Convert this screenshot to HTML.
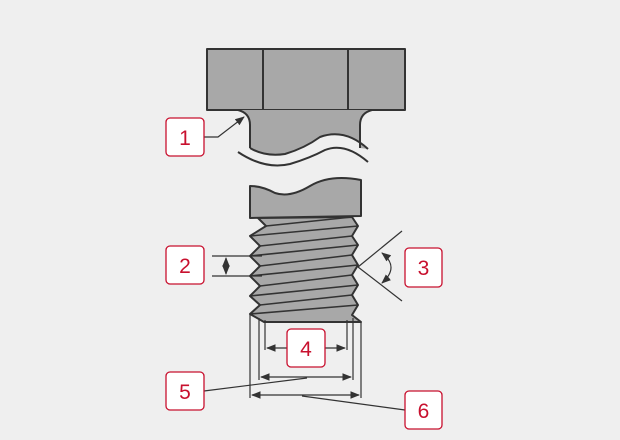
<html><body style="margin:0;background:#efefef">
<svg width="620" height="440" viewBox="0 0 620 440" xmlns="http://www.w3.org/2000/svg" style="display:block">
<defs><marker id="a" viewBox="0 0 10 10" refX="9" refY="5" markerWidth="8" markerHeight="8" orient="auto-start-reverse"><path d="M0,1 L10,5 L0,9z" fill="#333"/></marker></defs>
<g stroke="#333" stroke-width="2" fill="#a8a8a8" stroke-linejoin="round">
<rect x="207" y="49" width="198" height="61"/>
<line x1="263" y1="49" x2="263" y2="110"/><line x1="348" y1="49" x2="348" y2="110"/>
<path d="M238,110 Q250,113 250,125 L250,148 Q265,157 285,154 Q305,148 320,137 Q345,128 368,149 L360,148 L360,125 Q360,113 372,110 Z" stroke="none"/>
<path d="M238,110 Q250,113 250,125 L250,148 M368,149 Q345,128 320,137 Q305,148 285,154 Q265,157 250,148 M360,148 L360,125 Q360,113 372,110" fill="none"/>
<path d="M238,152 Q265,170 290,164 Q310,158 325,150 Q345,142 368,162" fill="none"/>
<path d="M250,186 Q262,186 275,193 Q290,198 310,186 Q330,174 361,180 L361,216 L250,218 Z"/>
<path d="M258,218 L266,226 L250,236 L260,246 L250,256 L260,266 L250,276 L260,286 L250,296 L260,305 L250,314 L264,322 L361,322 L352,315 L358,305 L352,295 L358,285 L352,275 L358,265 L352,255 L358,245 L352,236 L358,226 L352,217 Z"/>
<g fill="none" stroke-width="1.6">
<path d="M266,226 L352,217 M250,236 L358,226 M260,246 L352,236 M250,256 L358,245 M260,266 L352,255 M250,276 L358,265 M260,286 L352,275 M250,296 L358,285 M260,305 L352,295 M250,314 L358,305"/>
</g>
</g>
<g stroke="#333" stroke-width="1.2" fill="none">
<polyline points="204,137 218,137 244,117" marker-end="url(#a)"/>
<line x1="212" y1="256" x2="262" y2="256"/><line x1="212" y1="276" x2="262" y2="276"/>
<line x1="226" y1="258" x2="226" y2="274" marker-start="url(#a)" marker-end="url(#a)"/>
<line x1="358" y1="267" x2="402" y2="231"/><line x1="358" y1="267" x2="402" y2="301"/>
<path d="M382,253 Q400,267 382,283" marker-start="url(#a)" marker-end="url(#a)"/>
<line x1="265" y1="320" x2="265" y2="350"/><line x1="347" y1="320" x2="347" y2="350"/>
<line x1="267" y1="348" x2="287" y2="348" marker-start="url(#a)"/><line x1="325" y1="348" x2="345" y2="348" marker-end="url(#a)"/>
<line x1="259" y1="318" x2="259" y2="380"/><line x1="353" y1="318" x2="353" y2="380"/>
<line x1="261" y1="377" x2="351" y2="377" marker-start="url(#a)" marker-end="url(#a)"/>
<line x1="250" y1="314" x2="250" y2="398"/><line x1="361" y1="322" x2="361" y2="398"/>
<line x1="252" y1="395" x2="359" y2="395" marker-start="url(#a)" marker-end="url(#a)"/>
<line x1="204" y1="391" x2="307" y2="378"/><line x1="302" y1="396" x2="405" y2="410"/>
</g>
<g fill="#fff" stroke="#c8102e" stroke-width="1.3">
<rect x="166" y="118" width="38" height="38" rx="4"/><rect x="166" y="246" width="38" height="38" rx="4"/>
<rect x="405" y="248" width="37" height="39" rx="4"/><rect x="287" y="329" width="38" height="38" rx="4"/>
<rect x="166" y="372" width="38" height="38" rx="4"/><rect x="405" y="391" width="37" height="38" rx="4"/>
</g>
<g fill="#c8102e" font-family="Liberation Sans, sans-serif" font-size="21" text-anchor="middle">
<text x="185" y="145">1</text><text x="185" y="273">2</text><text x="423.5" y="275">3</text>
<text x="306" y="356">4</text><text x="185" y="399">5</text><text x="423.5" y="418">6</text>
</g>
</svg>
</body></html>
